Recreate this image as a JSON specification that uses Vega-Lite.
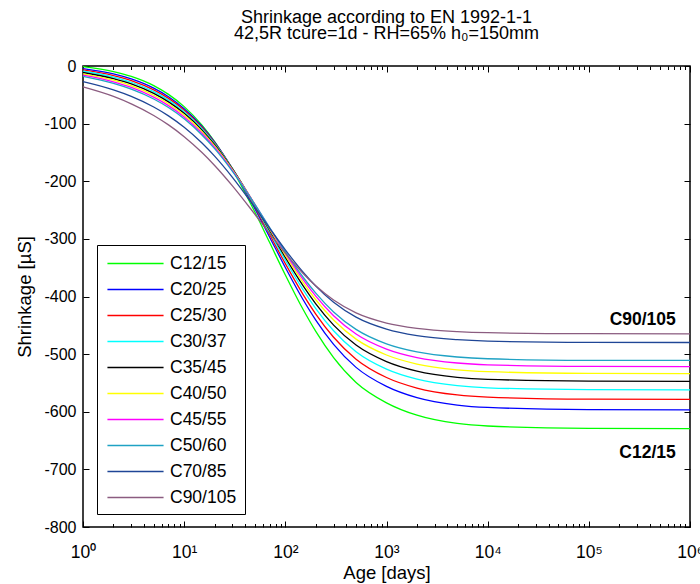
{
  "$schema": "https://vega.github.io/schema/vega-lite/v6.json",
  "width": 607,
  "height": 461,
  "autosize": {"type": "none"},
  "padding": {"left": 83, "top": 66, "right": 10, "bottom": 57},
  "background": "white",
  "config": {
    "font": "Liberation Sans",
    "view": {"stroke": "black", "strokeWidth": 1.5},
    "axis": {"grid": false, "domain": false, "tickColor": "black", "tickWidth": 1, "labelColor": "black", "titleColor": "black", "labelFont": "Liberation Sans", "titleFont": "Liberation Sans", "titleFontWeight": "normal"}
  },
  "title": {
    "text": ["Shrinkage according to EN 1992-1-1", "42,5R tcure=1d - RH=65% h₀=150mm"],
    "fontSize": 18,
    "fontWeight": "normal",
    "font": "Liberation Sans",
    "color": "black",
    "lineHeight": 16,
    "anchor": "middle",
    "offset": 15
  },
  "datasets": {
    "curves": [
      {"t": 1, "C12/15": -0.9, "C20/25": -4.5, "C25/30": -6.8, "C30/37": -9.1, "C35/45": -11.3, "C40/50": -13.6, "C45/55": -15.9, "C50/60": -18.1, "C70/85": -27.2, "C90/105": -36.3},
      {"t": 2, "C12/15": -9.6, "C20/25": -13.8, "C25/30": -16.5, "C30/37": -19.2, "C35/45": -21.9, "C40/50": -24.6, "C45/55": -27.4, "C50/60": -30.2, "C70/85": -41.4, "C90/105": -52.8},
      {"t": 3, "C12/15": -18.0, "C20/25": -22.5, "C25/30": -25.3, "C30/37": -28.2, "C35/45": -31.1, "C40/50": -34.1, "C45/55": -37.1, "C50/60": -40.2, "C70/85": -52.7, "C90/105": -65.6},
      {"t": 5, "C12/15": -34.0, "C20/25": -38.5, "C25/30": -41.4, "C30/37": -44.5, "C35/45": -47.6, "C40/50": -50.7, "C45/55": -54.0, "C50/60": -57.3, "C70/85": -71.1, "C90/105": -85.8},
      {"t": 7, "C12/15": -49.2, "C20/25": -53.4, "C25/30": -56.2, "C30/37": -59.2, "C35/45": -62.3, "C40/50": -65.4, "C45/55": -68.7, "C50/60": -72.1, "C70/85": -86.5, "C90/105": -102.2},
      {"t": 10, "C12/15": -70.5, "C20/25": -74.1, "C25/30": -76.6, "C30/37": -79.3, "C35/45": -82.2, "C40/50": -85.2, "C45/55": -88.4, "C50/60": -91.7, "C70/85": -106.3, "C90/105": -122.6},
      {"t": 15, "C12/15": -102.6, "C20/25": -105.0, "C25/30": -106.8, "C30/37": -108.9, "C35/45": -111.2, "C40/50": -113.8, "C45/55": -116.6, "C50/60": -119.7, "C70/85": -133.6, "C90/105": -150.2},
      {"t": 20, "C12/15": -131.2, "C20/25": -132.2, "C25/30": -133.3, "C30/37": -134.8, "C35/45": -136.5, "C40/50": -138.6, "C45/55": -140.9, "C50/60": -143.5, "C70/85": -156.4, "C90/105": -172.6},
      {"t": 30, "C12/15": -180.0, "C20/25": -178.4, "C25/30": -178.1, "C30/37": -178.2, "C35/45": -178.7, "C40/50": -179.7, "C45/55": -181.1, "C50/60": -182.8, "C70/85": -193.2, "C90/105": -208.0},
      {"t": 50, "C12/15": -253.5, "C20/25": -247.6, "C25/30": -244.8, "C30/37": -242.7, "C35/45": -241.2, "C40/50": -240.3, "C45/55": -239.9, "C50/60": -240.1, "C70/85": -245.5, "C90/105": -257.3},
      {"t": 70, "C12/15": -306.4, "C20/25": -297.1, "C25/30": -292.5, "C30/37": -288.6, "C35/45": -285.5, "C40/50": -283.1, "C45/55": -281.3, "C50/60": -280.3, "C70/85": -281.6, "C90/105": -290.7},
      {"t": 100, "C12/15": -362.6, "C20/25": -349.7, "C25/30": -343.0, "C30/37": -337.1, "C35/45": -332.2, "C40/50": -328.2, "C45/55": -324.9, "C50/60": -322.3, "C70/85": -319.0, "C90/105": -324.8},
      {"t": 150, "C12/15": -422.6, "C20/25": -405.7, "C25/30": -396.6, "C30/37": -388.6, "C35/45": -381.7, "C40/50": -375.8, "C45/55": -370.7, "C50/60": -366.6, "C70/85": -357.9, "C90/105": -360.0},
      {"t": 200, "C12/15": -460.6, "C20/25": -441.0, "C25/30": -430.4, "C30/37": -421.0, "C35/45": -412.8, "C40/50": -405.6, "C45/55": -399.4, "C50/60": -394.2, "C70/85": -382.0, "C90/105": -381.5},
      {"t": 300, "C12/15": -506.0, "C20/25": -483.1, "C25/30": -470.7, "C30/37": -459.5, "C35/45": -449.6, "C40/50": -440.9, "C45/55": -433.3, "C50/60": -426.8, "C70/85": -410.0, "C90/105": -406.2},
      {"t": 500, "C12/15": -549.1, "C20/25": -523.0, "C25/30": -508.7, "C30/37": -495.8, "C35/45": -484.3, "C40/50": -474.0, "C45/55": -465.0, "C50/60": -457.1, "C70/85": -435.8, "C90/105": -428.4},
      {"t": 1000, "C12/15": -584.5, "C20/25": -556.0, "C25/30": -540.5, "C30/37": -526.0, "C35/45": -513.0, "C40/50": -501.5, "C45/55": -491.2, "C50/60": -482.2, "C70/85": -456.6, "C90/105": -446.0},
      {"t": 2000, "C12/15": -606.0, "C20/25": -575.6, "C25/30": -558.8, "C30/37": -543.4, "C35/45": -529.6, "C40/50": -517.2, "C45/55": -506.0, "C50/60": -496.2, "C70/85": -468.0, "C90/105": -455.2},
      {"t": 5000, "C12/15": -620.3, "C20/25": -588.4, "C25/30": -570.8, "C30/37": -554.7, "C35/45": -540.2, "C40/50": -527.2, "C45/55": -515.4, "C50/60": -505.0, "C70/85": -475.0, "C90/105": -460.9},
      {"t": 10000, "C12/15": -624.7, "C20/25": -592.5, "C25/30": -574.6, "C30/37": -558.4, "C35/45": -543.7, "C40/50": -530.4, "C45/55": -518.5, "C50/60": -508.0, "C70/85": -477.4, "C90/105": -462.8},
      {"t": 100000, "C12/15": -628.8, "C20/25": -596.3, "C25/30": -578.2, "C30/37": -561.7, "C35/45": -546.8, "C40/50": -533.5, "C45/55": -521.4, "C50/60": -510.7, "C70/85": -479.6, "C90/105": -464.5},
      {"t": 1000000, "C12/15": -629.3, "C20/25": -596.7, "C25/30": -578.6, "C30/37": -562.1, "C35/45": -547.2, "C40/50": -533.8, "C45/55": -521.7, "C50/60": -511.0, "C70/85": -479.8, "C90/105": -464.7}
    ],
    "notes": [
      {"t": 724000, "v": -450, "label": "C90/105"},
      {"t": 724000, "v": -681, "label": "C12/15"}
    ]
  },
  "layer": [
    {
      "data": {"name": "curves"},
      "transform": [{"fold": ["C12/15", "C20/25", "C25/30", "C30/37", "C35/45", "C40/50", "C45/55", "C50/60", "C70/85", "C90/105"], "as": ["grade", "v"]}],
      "mark": {"type": "line", "strokeWidth": 1.3, "interpolate": "monotone"},
      "encoding": {
        "x": {
          "field": "t", "type": "quantitative",
          "scale": {"type": "log", "domain": [1, 1000000], "nice": false},
          "axis": {
            "orient": "bottom",
            "values": [1, 10, 100, 1000, 10000, 100000, 1000000],
            "labelExpr": "'10' + ['⁰','¹','²','³','⁴','⁵','⁶'][indexof([1,10,100,1000,10000,100000,1000000], datum.value)]",
            "ticks": false,
            "labelOverlap": false,
            "labelFlush": false,
            "labelBound": false,
            "labelFontSize": 17.5,
            "labelPadding": 30,
            "labelBaseline": "alphabetic",
            "title": "Age [days]",
            "titleFontSize": 18.5,
            "titleY": 51,
            "titleBaseline": "alphabetic"
          }
        },
        "y": {
          "field": "v", "type": "quantitative",
          "scale": {"domain": [-800, 0], "nice": false},
          "axis": {
            "orient": "left",
            "values": [-800, -700, -600, -500, -400, -300, -200, -100, 0],
            "labelExpr": "'' + datum.value",
            "ticks": false,
            "labelFontSize": 16,
            "labelPadding": 7,
            "title": "Shrinkage [µS]",
            "titleFontSize": 18.5,
            "titleX": -59,
            "titleY": 230.5,
            "titleBaseline": "middle"
          }
        },
        "color": {
          "field": "grade", "type": "nominal",
          "scale": {
            "domain": ["C12/15", "C20/25", "C25/30", "C30/37", "C35/45", "C40/50", "C45/55", "C50/60", "C70/85", "C90/105"],
            "range": ["#00FF00", "#0000FF", "#FF0000", "#00FFFF", "#000000", "#FFFF00", "#FF00FF", "#1FA2C4", "#1F4696", "#8B5C80"]
          },
          "legend": {
            "orient": "none",
            "legendX": 14,
            "legendY": 179,
            "title": null,
            "symbolType": "M-3,0H3",
            "symbolSize": 350,
            "symbolStrokeWidth": 1.5,
            "labelFontSize": 17.5,
            "labelColor": "black",
            "padding": 8,
            "rowPadding": 7,
            "symbolOffset": 20,
            "labelOffset": 24,
            "strokeColor": "black",
            "fillColor": "white"
          }
        }
      }
    },
    {
      "data": {"name": "notes"},
      "mark": {"type": "text", "align": "right", "baseline": "alphabetic", "fontWeight": "bold", "fontSize": 17.5, "color": "black"},
      "encoding": {
        "x": {
          "field": "t", "type": "quantitative",
          "axis": {
            "orient": "top",
            "offset": -461,
            "labels": false,
            "title": null,
            "values": [1,2,3,4,5,6,7,8,9,10,20,30,40,50,60,70,80,90,100,200,300,400,500,600,700,800,900,1000,2000,3000,4000,5000,6000,7000,8000,9000,10000,20000,30000,40000,50000,60000,70000,80000,90000,100000,200000,300000,400000,500000,600000,700000,800000,900000,1000000],
            "tickSize": {"condition": {"test": "indexof([1,10,100,1000,10000,100000,1000000], datum.value) >= 0", "value": 6}, "value": 3.5}
          }
        },
        "y": {
          "field": "v", "type": "quantitative",
          "axis": {
            "orient": "right",
            "offset": -607,
            "labels": false,
            "title": null,
            "values": [-800, -700, -600, -500, -400, -300, -200, -100, 0],
            "tickSize": 6
          }
        },
        "text": {"field": "label"}
      }
    },
    {
      "data": {"name": "notes"},
      "mark": {"type": "text", "opacity": 0},
      "encoding": {
        "x": {
          "field": "t", "type": "quantitative",
          "axis": {
            "orient": "bottom",
            "offset": -461,
            "labels": false,
            "title": null,
            "values": [1,2,3,4,5,6,7,8,9,10,20,30,40,50,60,70,80,90,100,200,300,400,500,600,700,800,900,1000,2000,3000,4000,5000,6000,7000,8000,9000,10000,20000,30000,40000,50000,60000,70000,80000,90000,100000,200000,300000,400000,500000,600000,700000,800000,900000,1000000],
            "tickSize": {"condition": {"test": "indexof([1,10,100,1000,10000,100000,1000000], datum.value) >= 0", "value": 6}, "value": 3.5}
          }
        },
        "y": {
          "field": "v", "type": "quantitative",
          "axis": {
            "orient": "left",
            "offset": -607,
            "labels": false,
            "title": null,
            "values": [-800, -700, -600, -500, -400, -300, -200, -100, 0],
            "tickSize": 6
          }
        },
        "text": {"field": "label"}
      }
    }
  ],
  "resolve": {"axis": {"x": "independent", "y": "independent"}}
}
